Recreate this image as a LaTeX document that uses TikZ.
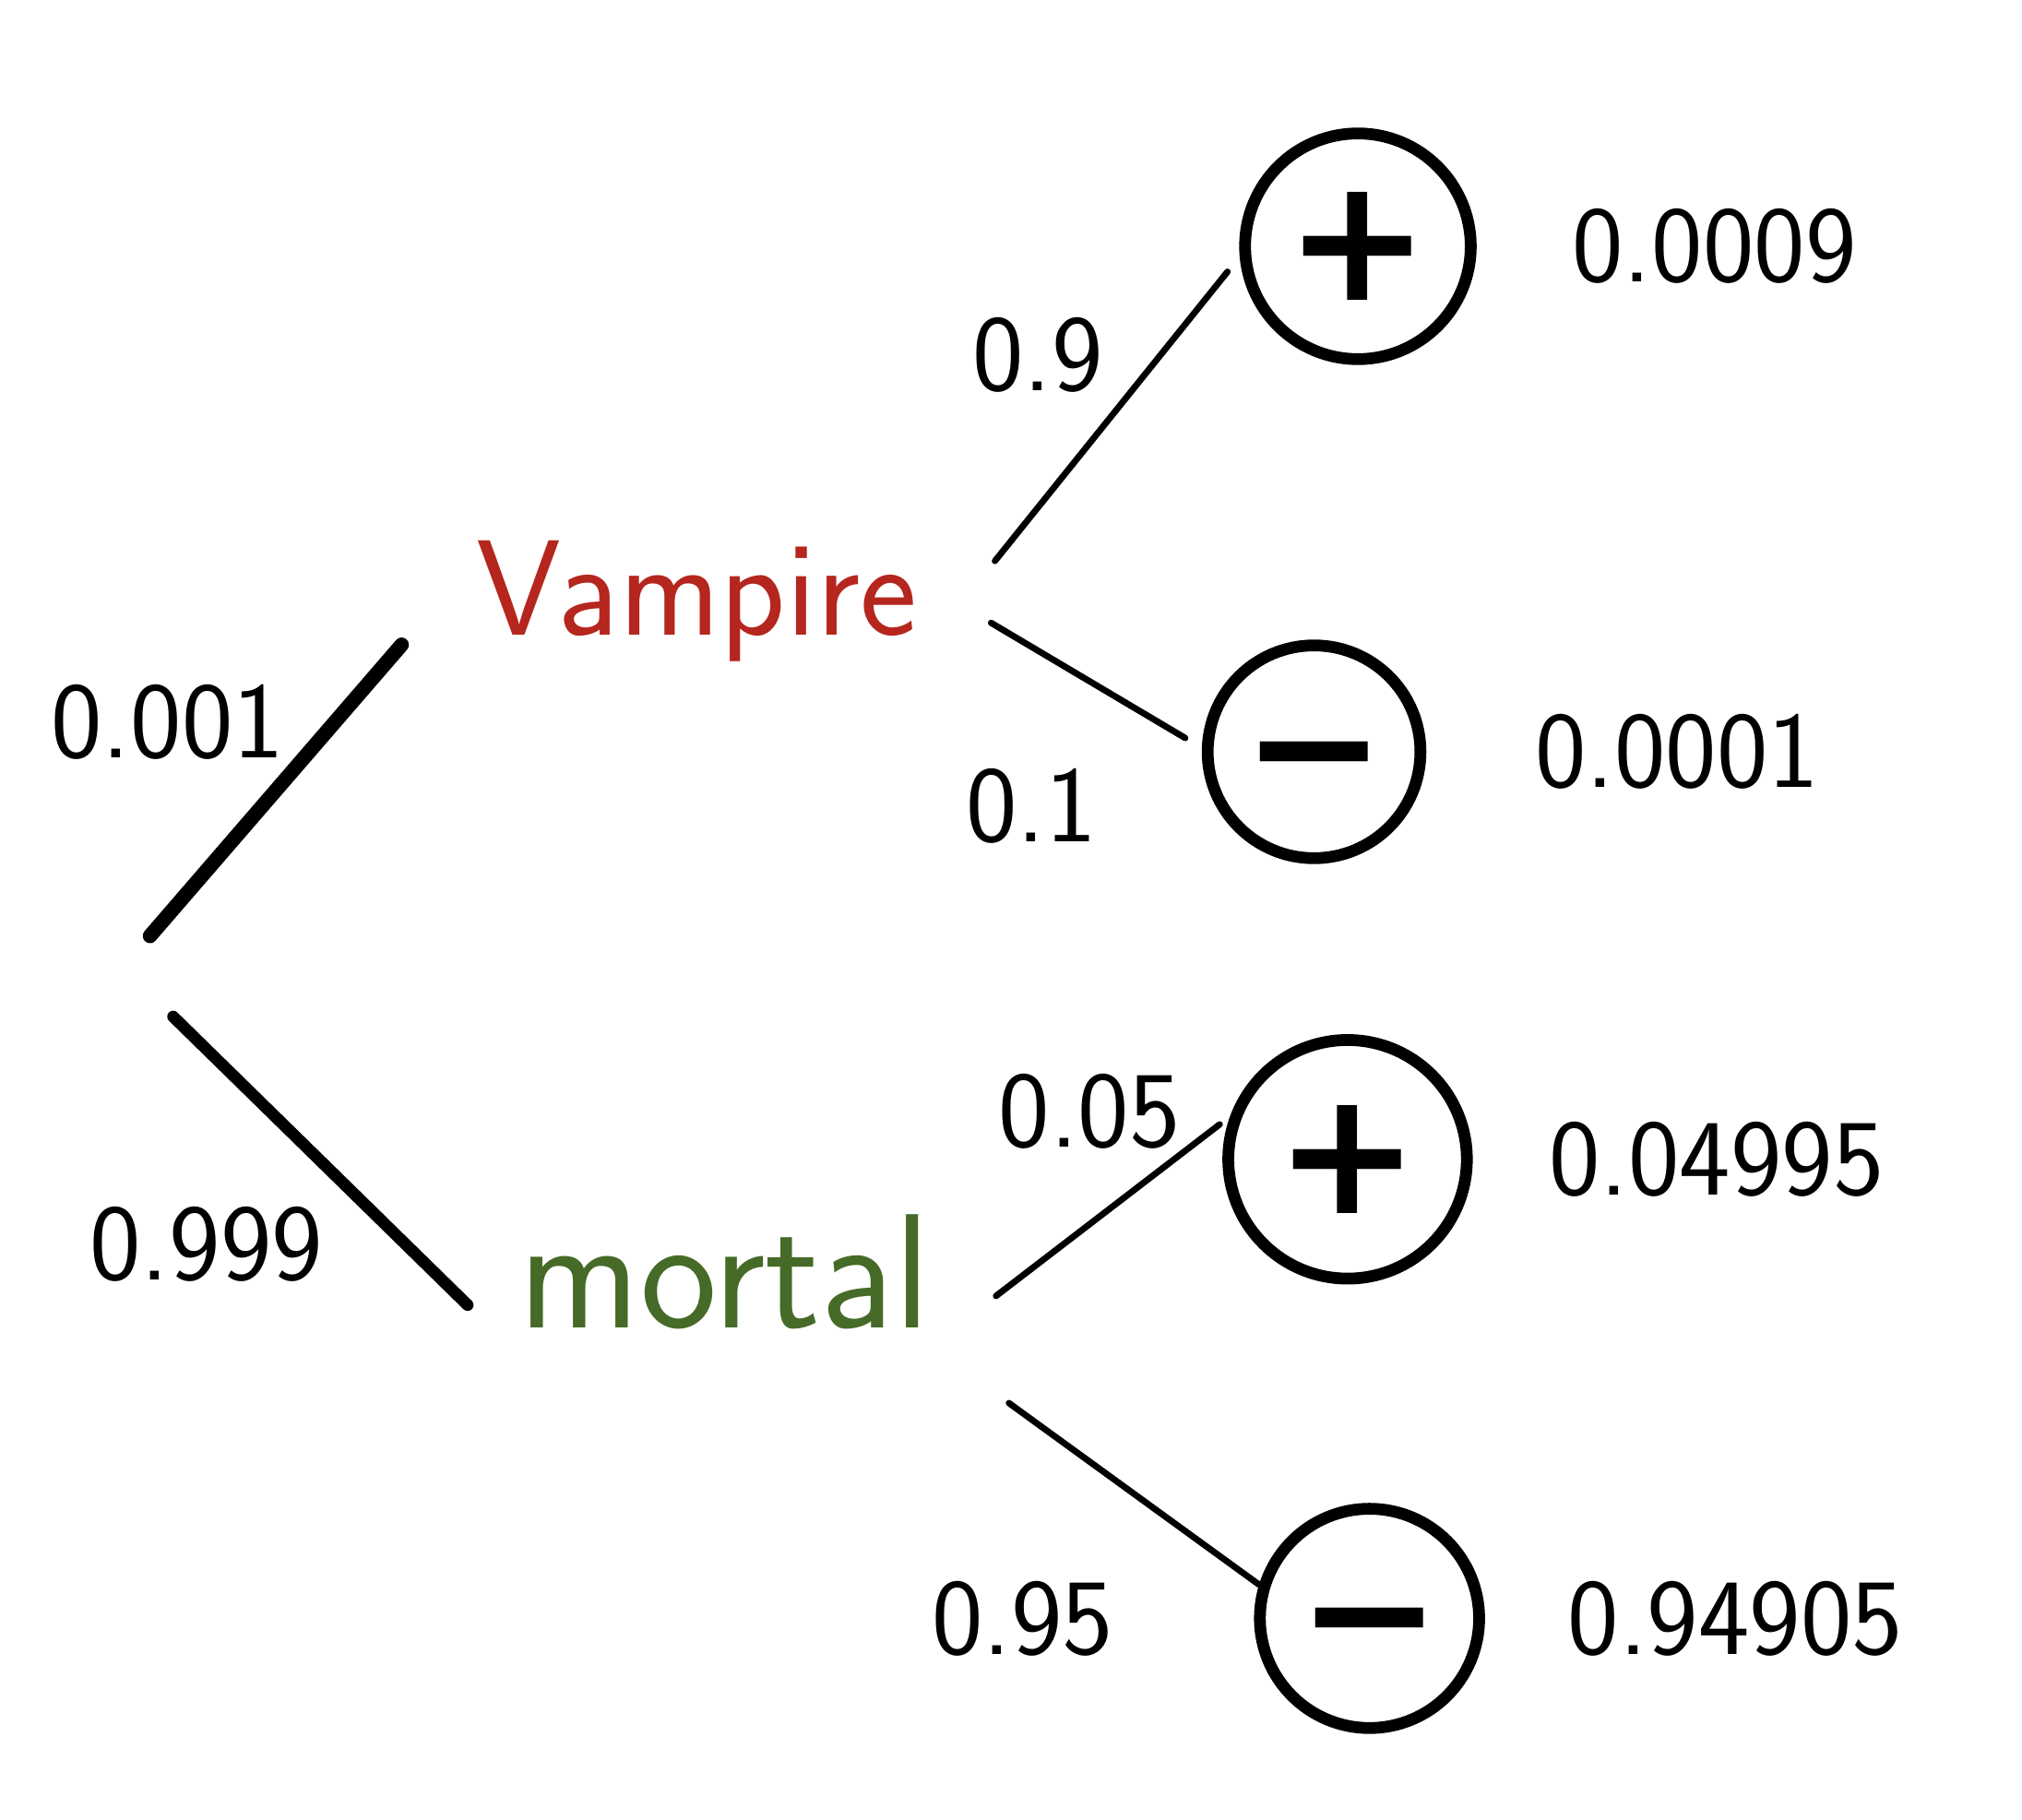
\documentclass[tikz,border=0pt]{standalone}
\usepackage{amsmath,amssymb,bm}
\usepackage{fontspec}
\newfontfamily\signfont{DejaVu Sans}
\usepackage{tikz}
\usetikzlibrary{positioning}
\usepackage{xcolor}
\definecolor{vampred}{HTML}{B5261E}
\definecolor{mortgreen}{HTML}{466A27}

\begin{document}
\begin{tikzpicture}[
    outcome/.style={draw,circle,line width=2.6pt,minimum size=1.75cm,inner sep=0pt,
      font=\fontsize{38}{38}\selectfont\signfont\bfseries},
    word/.style={font=\fontsize{30}{30}\selectfont\sffamily,inner sep=2pt},
    num/.style={font=\fontsize{24}{24}\selectfont\sffamily,inner sep=1pt},
    trunk/.style={line width=3.2pt,line cap=round},
    twig/.style={line width=1.4pt,line cap=round}
  ]
    \useasboundingbox (0,0) rectangle (15.68,14.11);

    % Level 0: root
    \node[circle,minimum size=0.64cm,inner sep=0pt] (root) at (1.22,6.53) {};

    % Level 1: vampire or mortal
    \node[word,text=vampred] (vamp) at (5.40,9.45) {Vampire};
    \node[word,text=mortgreen,font=\fontsize{36}{36}\selectfont\sffamily] (mort) at (5.62,4.25) {mortal};

    % Level 2: test results
    \node[outcome] (vplus) at (10.53,12.20) {+};
    \node[outcome,minimum size=1.65cm] (vminus) at (10.19,8.28) {\vphantom{+}−};
    \node[outcome,minimum size=1.85cm] (mplus) at (10.45,5.12) {+};
    \node[outcome,minimum size=1.7cm] (mminus) at (10.62,1.56) {\vphantom{+}−};

    % Joint probabilities
    \node[num, right=0.7cm of vplus] (jvp) {0.0009};
    \node[num, right=0.8cm of vminus] (jvm) {0.0001};
    \node[num, right=0.55cm of mplus] (jmp) {0.04995};
    \node[num, right=0.6cm of mminus] (jmm) {0.94905};

    % Branch probabilities
    \node[num] (pv) at (1.30,8.51) {0.001};
    \node[num] (pm) at (1.60,4.46) {0.999};
    \node[num] (pvp) at (8.05,11.36) {0.9};
    \node[num] (pvm) at (8.00,7.86) {0.1};
    \node[num] (pmp) at (8.45,5.49) {0.05};
    \node[num] (pmm) at (7.93,1.56) {0.95};

    % Branches
    \draw[trunk] (root.100) -- ([shift={(-0.5,-0.34)}]vamp.west);
    \draw[trunk,line width=2.6pt] (root.-68) -- ([shift={(-0.32,-0.26)}]mort.west);
    \draw[twig,shorten >=0.15cm] ([shift={(0.53,0.31)}]vamp.east) -- (vplus.185);
    \draw[twig,shorten >=0.15cm] ([shift={(0.50,-0.17)}]vamp.east) -- (vminus.178);
    \draw[twig,shorten >=0.1cm] ([shift={(0.43,-0.19)}]mort.east) -- (mplus.160);
    \draw[twig] ([shift={(0.53,-1.02)}]mort.east) -- (mminus.163);
  \end{tikzpicture}
\end{document}
